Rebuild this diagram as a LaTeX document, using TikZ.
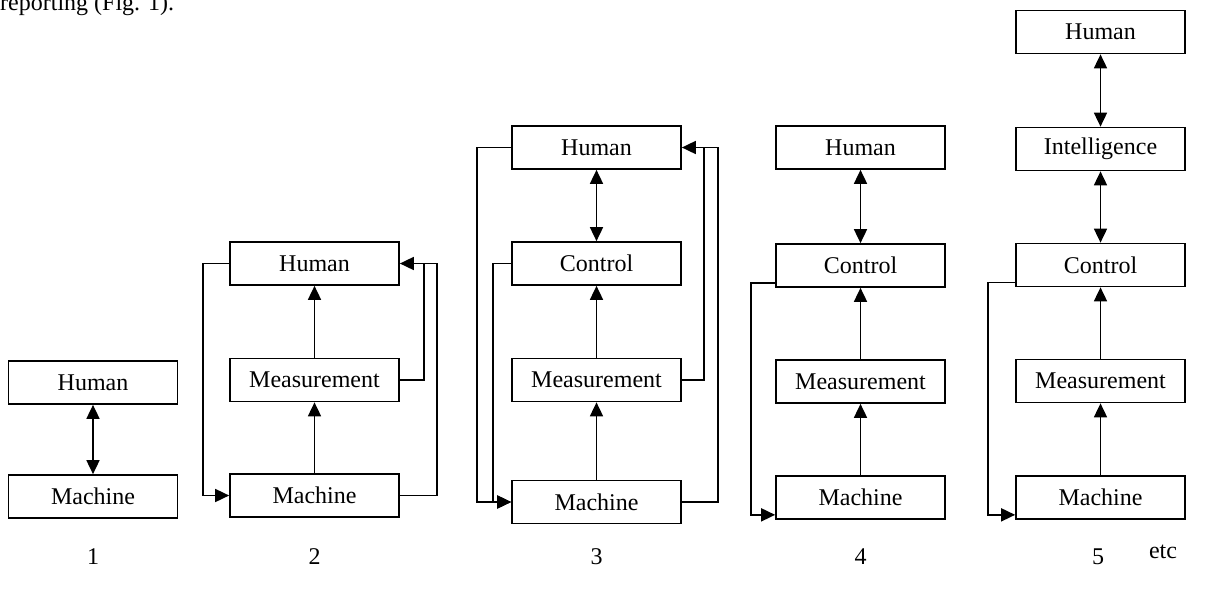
\documentclass[tikz,border=0pt]{standalone}
\usepackage{fontspec}
\setmainfont{Liberation Serif}
\usetikzlibrary{arrows.meta}
\begin{document}
\begin{tikzpicture}[x=1pt,y=-1pt,
  box/.style={draw,line width=1.7pt,minimum width=169pt,minimum height=43pt,inner sep=0pt,font=\fontsize{24}{28}\selectfont},
  lbl/.style={inner sep=0pt,font=\fontsize{24}{28}\selectfont},
  conn/.style={line width=1.7pt,-{Triangle[length=14pt,width=13pt]}},
  dconn/.style={line width=1.7pt,{Triangle[length=14pt,width=13pt]}-{Triangle[length=14pt,width=13pt]}},
  plain/.style={line width=1.7pt}]
\useasboundingbox (0,0) rectangle (1218,592);
\node[lbl,anchor=base west] (intro) at (0,10) {reporting (Fig. 1).};
% column 1
\node[box] (H1) at (93,382.5) {Human};
\node[box] (M1) at (93,496.5) {Machine};
\draw[dconn] (H1) -- (M1);
% column 2
\node[box] (H2) at (314.5,263.5) {Human};
\node[box] (Me2) at (314.5,380) {Measurement};
\node[box] (Ma2) at (314.5,495.5) {Machine};
\draw[conn] (Ma2) -- (Me2);
\draw[conn] (Me2) -- (H2);
\draw[conn] (H2.west) -- ++(-26,0) |- (Ma2.west);
\coordinate (J2) at ([xshift=24pt]H2.east);
\draw[plain] (Me2.east) -| (J2);
\draw[conn] (Ma2.east) -- ++(37,0) |- (H2.east);
% column 3
\node[box] (H3) at (596.5,147.5) {Human};
\node[box] (C3) at (596.5,263.5) {Control};
\node[box] (Me3) at (596.5,380) {Measurement};
\node[box] (Ma3) at (596.5,502) {Machine};
\draw[dconn] (H3) -- (C3);
\draw[conn] (Me3) -- (C3);
\draw[conn] (Ma3) -- (Me3);
\draw[conn] (H3.west) -- ++(-34,0) |- (Ma3.west);
\draw[conn] (C3.west) -- ++(-18,0) |- (Ma3.west);
\coordinate (J3) at ([xshift=22pt]H3.east);
\draw[plain] (Me3.east) -| (J3);
\draw[conn] (Ma3.east) -- ++(36,0) |- (H3.east);
% column 4
\node[box] (H4) at (860.5,147.5) {Human};
\node[box] (C4) at (860.5,265.5) {Control};
\node[box] (Me4) at (860.5,381.5) {Measurement};
\node[box] (Ma4) at (860.5,497.5) {Machine};
\draw[dconn] (H4) -- (C4);
\draw[conn] (Me4) -- (C4);
\draw[conn] (Ma4) -- (Me4);
\draw[conn] ([yshift=5pt]C4.south west) -- ++(-24,0) |- ([yshift=5pt]Ma4.south west);
% column 5
\node[box] (H5) at (1100.5,32) {Human};
\node[box] (I5) at (1100.5,149) {Intelligence};
\node[box] (C5) at (1100.5,265) {Control};
\node[box] (Me5) at (1100.5,381) {Measurement};
\node[box] (Ma5) at (1100.5,497.5) {Machine};
\draw[dconn] (H5) -- (I5);
\draw[dconn] (I5) -- (C5);
\draw[conn] (Me5) -- (C5);
\draw[conn] (Ma5) -- (Me5);
\draw[conn] ([yshift=5pt]C5.south west) -- ++(-27,0) |- ([yshift=5pt]Ma5.south west);
% labels
\node[lbl] (n1) at (93,557) {1};
\node[lbl] (n2) at (314.5,557) {2};
\node[lbl] (n3) at (596.5,557) {3};
\node[lbl] (n4) at (860.5,557) {4};
\node[lbl] (n5) at (1098,557) {5};
\node[lbl] (etc) at (1163,552) {etc};
\end{tikzpicture}
\end{document}
